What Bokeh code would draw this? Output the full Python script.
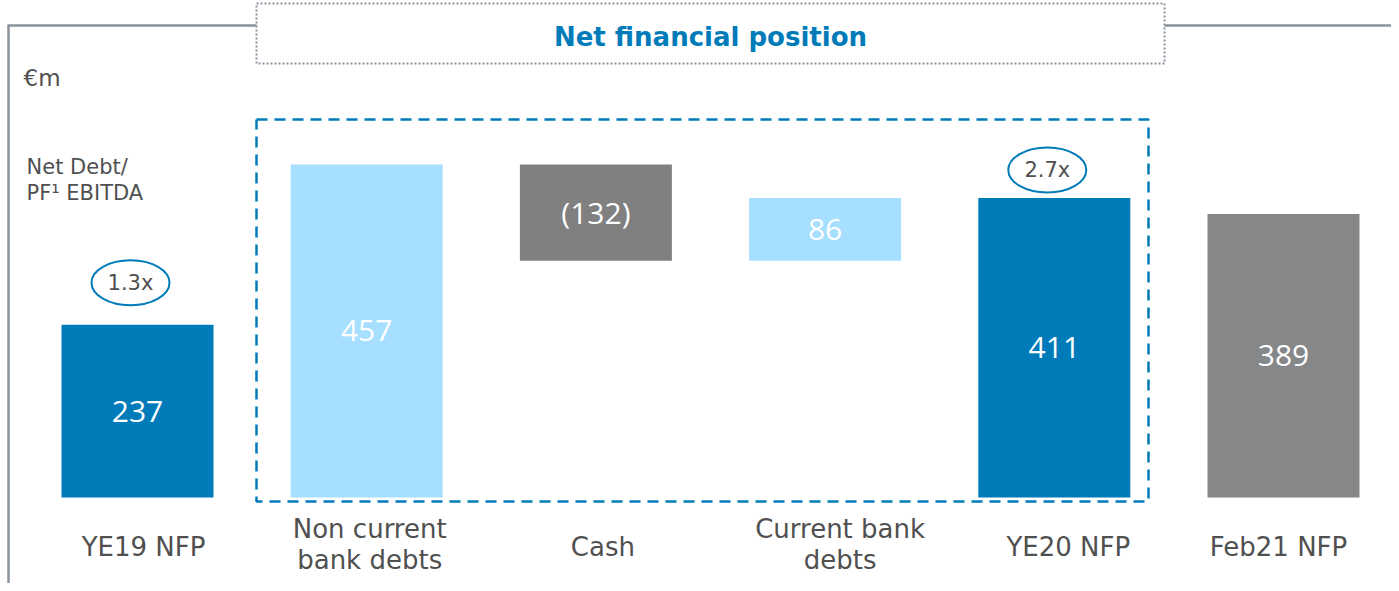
from bokeh.plotting import figure
from bokeh.models import Range1d, ColumnDataSource
from bokeh.core.properties import value
from bokeh.embed import file_html
from bokeh.resources import INLINE

# ---------------- data ----------------
categories = ["YE19 NFP", "Non current\nbank debts", "Cash", "Current bank\ndebts", "YE20 NFP", "Feb21 NFP"]
values = [237, 457, -132, 86, 411, 389]
kinds = ["total", "delta", "delta", "delta", "total", "total"]
leverage = {0: "1.3x", 4: "2.7x"}
colors = ["#007BBA", "#A6DFFF", "#808080", "#A6DFFF", "#007BBA", "#868789"]

# ---------------- layout (pixel helpers) ----------------
W, H = 1391, 583
SPX = 229.2          # px per category step
C0 = 137.0           # image x of first bar centre
PXU = 0.7287         # px per value unit
Y0 = 497.0           # image y of zero

X0 = -C0 / SPX
X1 = X0 + W / SPX
def dx(px):
    return X0 + px / SPX
def dy(py):
    return (Y0 - py) / PXU

p = figure(width=W, height=H, output_backend="svg", toolbar_location=None,
           x_range=Range1d(X0, X1), y_range=Range1d(dy(H), dy(0)),
           min_border=0, outline_line_color=None)
p.axis.visible = False
p.grid.visible = False
p.background_fill_color = "white"

# waterfall geometry
bottoms, tops = [], []
running = 0
for v, k in zip(values, kinds):
    if k == "total":
        bottoms.append(0)
        tops.append(v)
    else:
        b = running
        running = running + v
        bottoms.append(min(b, running))
        tops.append(max(b, running))

xs = list(range(len(values)))
src = ColumnDataSource(dict(x=xs, bottom=bottoms, top=tops, color=colors,
                            mid=[(b + t) / 2 for b, t in zip(bottoms, tops)],
                            lab=[f"({-v})" if v < 0 else str(v) for v in values]))

BW = 152 / SPX
p.vbar(x="x", bottom="bottom", top="top", width=BW, fill_color="color",
       line_color=None, source=src)
p.text(x="x", y="mid", text="lab", source=src, text_color="white",
       text_font=value("Open Sans"), text_font_size="30px",
       text_align="center", text_baseline="middle")

# frame lines
frame_col = "#8A939C"
p.line([dx(8), dx(8)], [dy(25), dy(600)], line_color=frame_col, line_width=2.5)
p.line([dx(7), dx(256)], [dy(25), dy(25)], line_color=frame_col, line_width=2.5)
p.line([dx(1164), dx(1400)], [dy(25), dy(25)], line_color=frame_col, line_width=2.5)

# title box (dotted)
tb = [(256, 3), (1164, 3), (1164, 63), (256, 63), (256, 3)]
p.line([dx(a) for a, _ in tb], [dy(b) for _, b in tb], line_color="#8A939E",
       line_width=2, line_dash="2 2")
p.text(x=[dx(710)], y=[dy(36)], text=["Net financial position"], text_color="#007BBA",
       text_font=value("DejaVu Sans"), text_font_style="bold", text_font_size="26px",
       text_align="center", text_baseline="middle")

# dashed breakdown box
db = [(256, 119), (1148, 119), (1148, 501), (256, 501), (256, 119)]
p.line([dx(a) for a, _ in db], [dy(b) for _, b in db], line_color="#007BBA",
       line_width=2.5, line_dash="11 7")

# side texts
txt_col = "#505050"
p.text(x=[dx(23)], y=[dy(77)], text=["€m"], text_color=txt_col,
       text_font=value("DejaVu Sans"), text_font_size="23px",
       text_align="left", text_baseline="middle")
p.text(x=[dx(26), dx(26)], y=[dy(166), dy(192)], text=["Net Debt/", "PF¹ EBITDA"],
       text_color=txt_col, text_font=value("DejaVu Sans"), text_font_size="21px",
       text_align="left", text_baseline="middle")

# leverage ovals
ov_x, ov_y, ov_t = [], [], []
ov_off = {0: 42, 4: 28}
for i, t in leverage.items():
    ov_x.append(i - 7 / SPX)
    ov_y.append(tops[i] + ov_off[i] / PXU)
    ov_t.append(t)
p.ellipse(x=ov_x, y=ov_y, width=78, height=45, width_units="screen",
          height_units="screen", fill_color="white", line_color="#007BBA", line_width=2)
p.text(x=ov_x, y=ov_y, text=ov_t, text_color=txt_col, text_font=value("DejaVu Sans"),
       text_font_size="21px", text_align="center", text_baseline="middle")

# category labels
label_dx = [6, 3, 7, 15, 14, -5]
lx, ly, lt = [], [], []
for i, c in enumerate(categories):
    lines = c.split("\n")
    if len(lines) == 1:
        lx.append(i + label_dx[i] / SPX); ly.append(dy(546)); lt.append(lines[0])
    else:
        for j, ln in enumerate(lines):
            lx.append(i + label_dx[i] / SPX); ly.append(dy(528 + 31 * j)); lt.append(ln)
p.text(x=lx, y=ly, text=lt, text_color=txt_col, text_font=value("DejaVu Sans"),
       text_font_size="26px", text_align="center", text_baseline="middle")

open("out.html", "w").write(file_html(p, INLINE))
